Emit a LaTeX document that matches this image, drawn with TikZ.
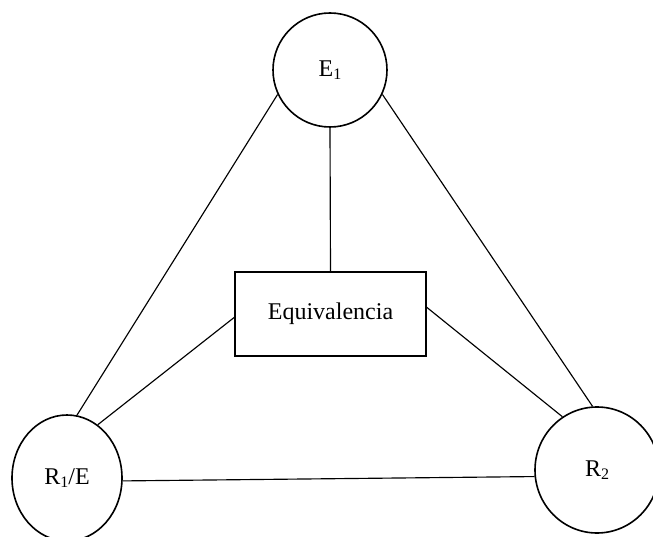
\documentclass[tikz,border=0pt]{standalone}
\usepackage{fontspec}
\setmainfont{Liberation Serif}
\usetikzlibrary{shapes.geometric}
\newcommand{\lowsub}[1]{\raisebox{-0.12em}{\fontsize{16}{16}\selectfont #1}}
\begin{document}
\begin{tikzpicture}[x=1pt,y=-1pt,
  every node/.style={font=\fontsize{24}{28}\selectfont},
  agent/.style={draw, ellipse, line width=1.6pt, inner sep=0pt},
  concept/.style={draw, rectangle, line width=1.4pt, inner sep=0pt,
    minimum width=191pt, minimum height=84pt},
  link/.style={line width=1.15pt}]
  \useasboundingbox (0,0) rectangle (653,537);
  \clip (0,0) rectangle (653,537);
  % three vertices
  \node[agent, minimum width=114pt, minimum height=114pt] (E1) at (330,70) {E\lowsub{1}};
  \node[agent, minimum width=110pt, minimum height=126pt] (R1) at (67,478) {R\lowsub{1}/E\hspace{10pt}};
  \node[agent, minimum width=124pt, minimum height=126pt] (R2) at (597,470) {R\lowsub{2}};
  % centre box
  \node[concept] (Eq) at (330.5,314) {Equivalencia};
  % edges of the triangle
  \draw[link] (E1.205) -- (R1.81);
  \draw[link] (E1.-25) -- (R2.94);
  \draw[link] (R1.-3) -- (R2.186);
  % spokes to the centre
  \draw[link] (E1.south) -- (Eq.north);
  \draw[link] (Eq.182) -- (R1.60);
  \draw[link] (Eq.4) -- (R2.123);
\end{tikzpicture}
\end{document}
